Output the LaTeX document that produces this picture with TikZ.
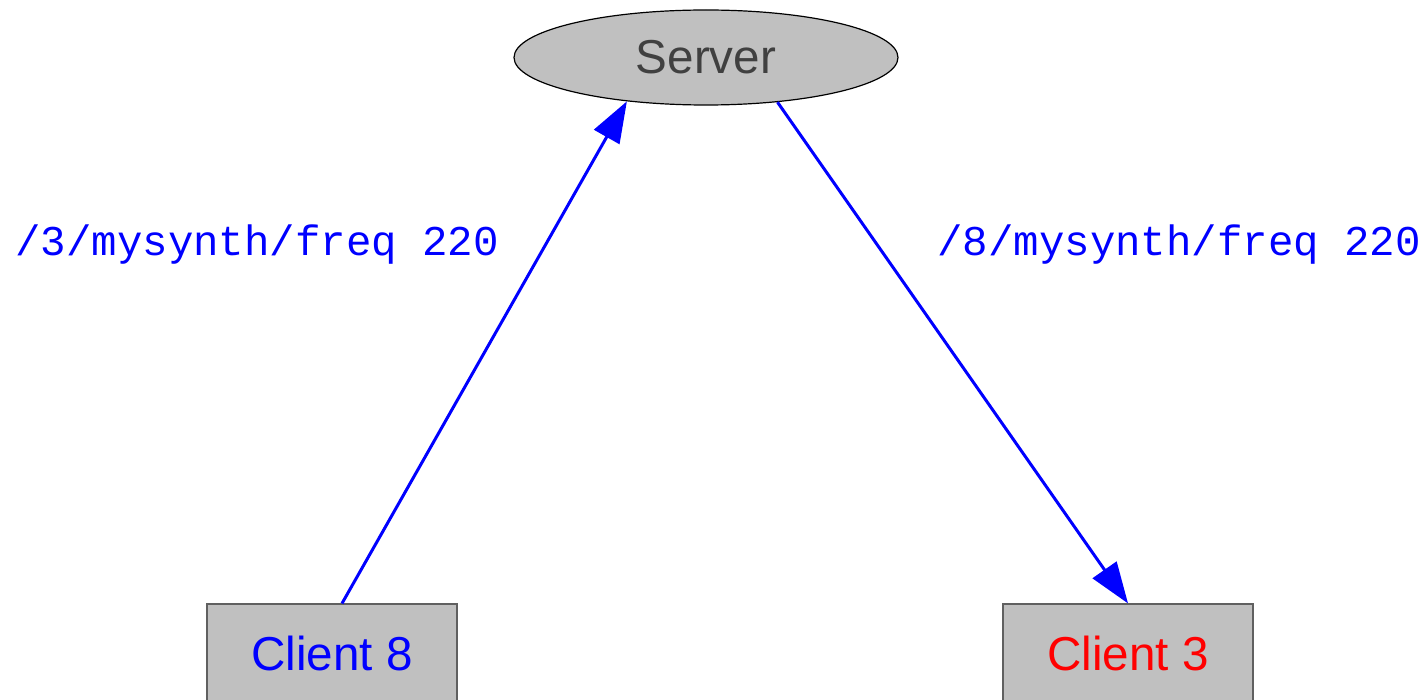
\documentclass[tikz,border=0pt]{standalone}
\usepackage{fontspec}
\setmainfont{Liberation Sans}
\newfontfamily\labelmono{Liberation Mono}
\usetikzlibrary{arrows.meta,shapes.geometric}
\definecolor{boxgray}{HTML}{C0C0C0}
\definecolor{edgegray}{HTML}{606060}
\definecolor{servertext}{HTML}{404040}
\tikzset{
  srvnode/.style={ellipse, draw=black, line width=0.6pt, fill=boxgray,
    minimum width=192pt, minimum height=47.5pt, inner sep=0pt,
    font=\fontsize{23.8pt}{28pt}\selectfont, text=servertext},
  clientbox/.style={rectangle, draw=edgegray, line width=0.6pt, fill=boxgray,
    minimum width=125pt, minimum height=49pt, inner sep=0pt,
    font=\fontsize{23.8pt}{28pt}\selectfont},
  msgarrow/.style={draw=blue, line width=1.5pt,
    -{Triangle[length=20.5pt,width=14.4pt]}},
  msglabel/.style={text=blue, inner sep=0pt, font=\labelmono\fontsize{21.2pt}{25pt}\selectfont}
}
\begin{document}
\begin{tikzpicture}[x=0.5pt,y=-0.5pt]
  \useasboundingbox (0,0) rectangle (1428,700);
  \begin{scope}
    \clip (0,0) rectangle (1428,700);
    \node[srvnode] (srv) at (706,57.5) {Server};
    \node[clientbox, text=blue] (c8) at (332,653) {Client 8};
    \node[clientbox, text=red] (c3) at (1128,653) {Client 3};
  \end{scope}
  \node[msglabel, anchor=base west] (lblA) at (15,256) {/3/mysynth/freq 220};
  \node[msglabel, anchor=base west] (lblB) at (937,256) {/8/mysynth/freq 220};
  \draw[msgarrow] ([xshift=5pt]c8.north) -- (srv.209);
  \draw[msgarrow] (srv.328) -- (c3.north);
\end{tikzpicture}
\end{document}
